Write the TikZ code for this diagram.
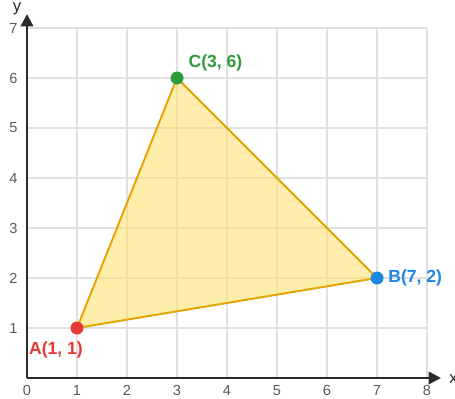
\documentclass[tikz,border=0pt]{standalone}
\usepackage{fontspec}
\setmainfont{Liberation Sans}
\usetikzlibrary{arrows.meta}
\definecolor{gridc}{HTML}{E0E0E0}
\definecolor{axisc}{HTML}{2B2B2B}
\definecolor{triedge}{HTML}{E2A500}
\definecolor{trifill}{HTML}{FFE066}
\definecolor{ca}{HTML}{E53935}
\definecolor{cb}{HTML}{1E88E5}
\definecolor{cc}{HTML}{2E9B3E}
\definecolor{tickc}{HTML}{5A5A5A}
\tikzset{
  gridline/.style={draw=gridc, line width=0.6pt},
  axisline/.style={draw=axisc, line width=1.4pt, -{Triangle[length=7pt,width=7pt]}},
  ticklab/.style={font=\fontsize{8.3}{10}\selectfont, text=tickc, inner sep=0pt},
  ptdot/.style={circle, inner sep=0pt, minimum size=0.26cm},
  ptlab/.style={font=\fontsize{10}{12}\selectfont\bfseries, inner sep=0pt}
}
\begin{document}
\begin{tikzpicture}
\useasboundingbox (-0.54,-0.4) rectangle (8.56,7.56);
\fill[white] (-0.54,-0.4) rectangle (8.56,7.56);
% grid
\foreach \i in {1,...,8} \draw[gridline] (\i,0) -- (\i,7);
\foreach \j in {1,...,7} \draw[gridline] (0,\j) -- (8,\j);
% points
\coordinate (A) at (1,1);
\coordinate (B) at (7,2);
\coordinate (C) at (3,6);
% triangle
\fill[trifill, fill opacity=0.55] (A) -- (B) -- (C) -- cycle;
\draw[triedge, line width=1.1pt, line join=round] (A) -- (B) -- (C) -- cycle;
% axes
\coordinate (O) at (0,0);
\coordinate (XE) at (8.28,0);
\coordinate (YE) at (0,7.28);
\draw[axisline] (O) -- (XE);
\draw[axisline] (O) -- (YE);
\node[ticklab, font=\fontsize{9.5}{11}\selectfont, text=axisc, anchor=west] (xl) at (8.44,-0.03) {x};
\node[ticklab, font=\fontsize{9.5}{11}\selectfont, text=axisc] (yl) at (-0.2,7.38) {y};
% ticks
\foreach \i in {0,...,8} \node[ticklab] (tx\i) at (\i,-0.25) {\i};
\foreach \j in {1,...,7} \node[ticklab] (ty\j) at (-0.27,\j) {\j};
% dots
\node[ptdot, fill=ca] (dA) at (A) {};
\node[ptdot, fill=cb] (dB) at (B) {};
\node[ptdot, fill=cc] (dC) at (C) {};
% labels
\node[ptlab, text=ca] (lA) at (0.58,0.56) {A(1, 1)};
\node[ptlab, text=cb, anchor=west] (lB) at (7.22,2.0) {B(7, 2)};
\node[ptlab, text=cc] (lC) at (3.77,6.3) {C(3, 6)};
\end{tikzpicture}
\end{document}
